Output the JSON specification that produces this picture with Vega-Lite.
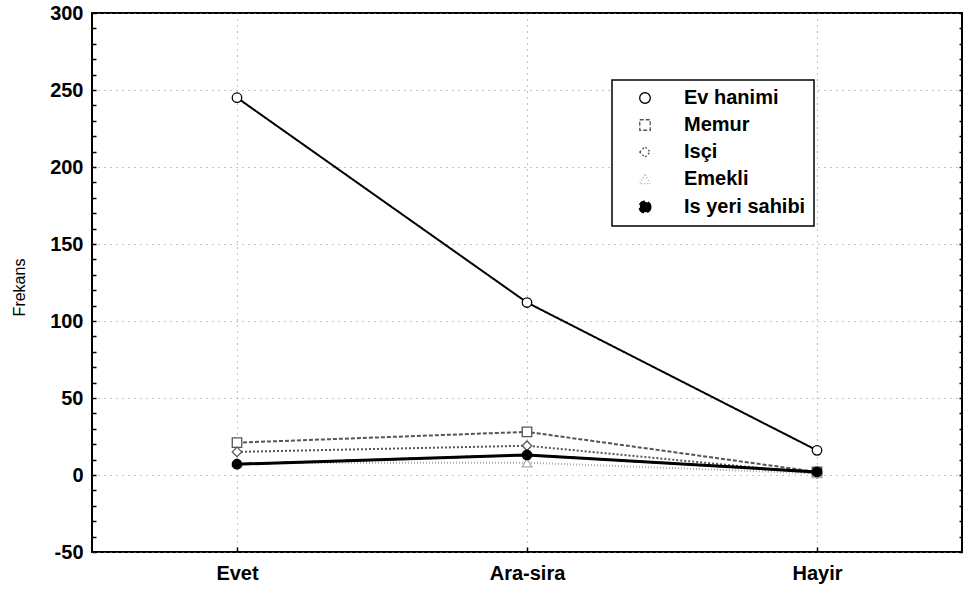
{
  "$schema": "https://vega.github.io/schema/vega-lite/v6.json",
  "width": 870,
  "height": 539,
  "autosize": "none",
  "padding": {"left": 92, "top": 13, "right": 5, "bottom": 40},
  "background": "white",
  "config": {
    "view": {"stroke": "black", "strokeWidth": 2},
    "font": "Liberation Sans"
  },
  "data": {
    "values": [
      {"cevap": "Evet", "grup": "Ev hanimi", "frekans": 245},
      {"cevap": "Ara-sira", "grup": "Ev hanimi", "frekans": 112},
      {"cevap": "Hayir", "grup": "Ev hanimi", "frekans": 16},
      {"cevap": "Evet", "grup": "Memur", "frekans": 21},
      {"cevap": "Ara-sira", "grup": "Memur", "frekans": 28},
      {"cevap": "Hayir", "grup": "Memur", "frekans": 2},
      {"cevap": "Evet", "grup": "Isçi", "frekans": 15},
      {"cevap": "Ara-sira", "grup": "Isçi", "frekans": 19},
      {"cevap": "Hayir", "grup": "Isçi", "frekans": 1},
      {"cevap": "Evet", "grup": "Emekli", "frekans": 8},
      {"cevap": "Ara-sira", "grup": "Emekli", "frekans": 8},
      {"cevap": "Hayir", "grup": "Emekli", "frekans": 1},
      {"cevap": "Evet", "grup": "Is yeri sahibi", "frekans": 7},
      {"cevap": "Ara-sira", "grup": "Is yeri sahibi", "frekans": 13},
      {"cevap": "Hayir", "grup": "Is yeri sahibi", "frekans": 2}
    ]
  },
  "encoding": {
    "x": {
      "field": "cevap", "type": "ordinal", "sort": ["Evet", "Ara-sira", "Hayir"],
      "scale": {"type": "point", "padding": 0.5},
      "axis": {"title": null, "labelAngle": 0, "labelFontSize": 20, "labelFontWeight": "bold", "labelColor": "black", "labelPadding": 16, "tickSize": -5, "tickWidth": 1.5, "tickColor": "black", "domain": false, "grid": true, "gridDash": [1, 5], "gridColor": "#888"}
    }
  },
  "resolve": {"axis": {"y": "independent"}},
  "layer": [
    {
      "mark": {"type": "line"},
      "encoding": {
        "y": {
          "field": "frekans", "type": "quantitative",
          "scale": {"domain": [-50, 300], "nice": false, "zero": false},
          "axis": {"title": "Frekans", "titleFontSize": 16, "titleFontWeight": "normal", "titleColor": "black", "titleX": -73, "titleY": 274, "titleAlign": "center", "titleBaseline": "middle", "titleAngle": 270,
            "values": [-50, -40, -30, -20, -10, 0, 10, 20, 30, 40, 50, 60, 70, 80, 90, 100, 110, 120, 130, 140, 150, 160, 170, 180, 190, 200, 210, 220, 230, 240, 250, 260, 270, 280, 290, 300],
            "labelExpr": "datum.value % 50 === 0 ? toString(datum.value) : ''", "labelOverlap": false, "labelFontSize": 20, "labelFontWeight": "bold", "labelColor": "black", "labelPadding": 13,
            "tickSize": -4, "tickWidth": 1.5, "tickColor": "black", "domain": false, "grid": true, "gridDash": [1, 5], "gridColor": "#888",
            "gridOpacity": {"condition": {"test": "datum.value % 50 === 0", "value": 1}, "value": 0}}
        },
        "color": {"field": "grup", "type": "nominal", "sort": ["Ev hanimi", "Memur", "Isçi", "Emekli", "Is yeri sahibi"],
          "scale": {"domain": ["Ev hanimi", "Memur", "Isçi", "Emekli", "Is yeri sahibi"], "range": ["#000000", "#555555", "#555555", "#aaaaaa", "#000000"]},
          "legend": {"title": null, "orient": "none", "legendX": 520, "legendY": 67, "strokeColor": "black", "fillColor": "white", "padding": 8, "labelFontSize": 20, "labelFontWeight": "bold", "labelColor": "black", "symbolSize": 110, "rowPadding": 7, "symbolOffset": 15, "labelOffset": 29, "labelExpr": "datum.label + '     '",
            "encode": {
              "legend": {"update": {"strokeWidth": {"value": 1.5}}},
              "symbols": {"update": {
              "shape": {"signal": "datum.value === 'Memur' ? 'M-3,0H-1M1,0H3M-1,-1H1V1H-1Z' : datum.value === 'Isçi' ? 'M-3,0H-1M1,0H3M0,-1.1L1.1,0L0,1.1L-1.1,0Z' : datum.value === 'Emekli' ? 'M-3,0H-1M1,0H3M0,-1L1,0.8L-1,0.8Z' : 'M-3,0H-1M1,0H3M1,0A1,1 0 1 1 -1,0A1,1 0 1 1 1,0Z'"},
              "strokeWidth": {"signal": "datum.value === 'Is yeri sahibi' ? 2.5 : 1.3"}
            }}}}},
        "strokeDash": {"field": "grup", "type": "nominal", "sort": ["Ev hanimi", "Memur", "Isçi", "Emekli", "Is yeri sahibi"],
          "scale": {"domain": ["Ev hanimi", "Memur", "Isçi", "Emekli", "Is yeri sahibi"], "range": [[1, 0], [4, 2], [2, 2], [1, 2], [6, 3]]},
          "legend": {"title": null, "orient": "none", "legendX": 520, "legendY": 67, "strokeColor": "black", "fillColor": "white", "padding": 8, "labelFontSize": 20, "labelFontWeight": "bold", "labelColor": "black", "symbolSize": 110, "rowPadding": 7, "symbolOffset": 15, "labelOffset": 29, "labelExpr": "datum.label + '     '",
            "encode": {
              "legend": {"update": {"strokeWidth": {"value": 1.5}}},
              "symbols": {"update": {
              "shape": {"signal": "datum.value === 'Memur' ? 'M-3,0H-1M1,0H3M-1,-1H1V1H-1Z' : datum.value === 'Isçi' ? 'M-3,0H-1M1,0H3M0,-1.1L1.1,0L0,1.1L-1.1,0Z' : datum.value === 'Emekli' ? 'M-3,0H-1M1,0H3M0,-1L1,0.8L-1,0.8Z' : 'M-3,0H-1M1,0H3M1,0A1,1 0 1 1 -1,0A1,1 0 1 1 1,0Z'"},
              "strokeWidth": {"signal": "datum.value === 'Is yeri sahibi' ? 2.5 : 1.3"}
            }}}}}
      }
    },
    {
      "mark": {"type": "point", "size": 90, "strokeWidth": 1.3, "opacity": 1},
      "encoding": {
        "y": {"field": "frekans", "type": "quantitative", "axis": null},
        "shape": {"field": "grup", "type": "nominal", "sort": ["Ev hanimi", "Memur", "Isçi", "Emekli", "Is yeri sahibi"],
          "scale": {"domain": ["Ev hanimi", "Memur", "Isçi", "Emekli", "Is yeri sahibi"], "range": ["circle", "square", "diamond", "triangle-up", "circle"]},
          "legend": {"title": null, "orient": "none", "legendX": 520, "legendY": 67, "strokeColor": "black", "fillColor": "white", "padding": 8, "labelFontSize": 20, "labelFontWeight": "bold", "labelColor": "black", "symbolSize": 110, "rowPadding": 7, "symbolOffset": 15, "labelOffset": 29, "labelExpr": "datum.label + '     '",
            "encode": {
              "legend": {"update": {"strokeWidth": {"value": 1.5}}},
              "symbols": {"update": {
              "shape": {"signal": "datum.value === 'Memur' ? 'M-3,0H-1M1,0H3M-1,-1H1V1H-1Z' : datum.value === 'Isçi' ? 'M-3,0H-1M1,0H3M0,-1.1L1.1,0L0,1.1L-1.1,0Z' : datum.value === 'Emekli' ? 'M-3,0H-1M1,0H3M0,-1L1,0.8L-1,0.8Z' : 'M-3,0H-1M1,0H3M1,0A1,1 0 1 1 -1,0A1,1 0 1 1 1,0Z'"},
              "strokeWidth": {"signal": "datum.value === 'Is yeri sahibi' ? 2.5 : 1.3"}
            }}}}},
        "color": {"field": "grup", "type": "nominal", "sort": ["Ev hanimi", "Memur", "Isçi", "Emekli", "Is yeri sahibi"],
          "scale": {"domain": ["Ev hanimi", "Memur", "Isçi", "Emekli", "Is yeri sahibi"], "range": ["#000000", "#555555", "#555555", "#aaaaaa", "#000000"]}},
        "fill": {"field": "grup", "type": "nominal", "sort": ["Ev hanimi", "Memur", "Isçi", "Emekli", "Is yeri sahibi"],
          "scale": {"domain": ["Ev hanimi", "Memur", "Isçi", "Emekli", "Is yeri sahibi"], "range": ["white", "white", "white", "white", "black"]},
          "legend": {"title": null, "orient": "none", "legendX": 520, "legendY": 67, "strokeColor": "black", "fillColor": "white", "padding": 8, "labelFontSize": 20, "labelFontWeight": "bold", "labelColor": "black", "symbolSize": 110, "rowPadding": 7, "symbolOffset": 15, "labelOffset": 29, "labelExpr": "datum.label + '     '",
            "encode": {
              "legend": {"update": {"strokeWidth": {"value": 1.5}}},
              "symbols": {"update": {
              "shape": {"signal": "datum.value === 'Memur' ? 'M-3,0H-1M1,0H3M-1,-1H1V1H-1Z' : datum.value === 'Isçi' ? 'M-3,0H-1M1,0H3M0,-1.1L1.1,0L0,1.1L-1.1,0Z' : datum.value === 'Emekli' ? 'M-3,0H-1M1,0H3M0,-1L1,0.8L-1,0.8Z' : 'M-3,0H-1M1,0H3M1,0A1,1 0 1 1 -1,0A1,1 0 1 1 1,0Z'"},
              "strokeWidth": {"signal": "datum.value === 'Is yeri sahibi' ? 2.5 : 1.3"}
            }}}}}
      }
    },
    {
      "mark": {"type": "line", "strokeWidth": 3},
      "transform": [{"filter": "datum.grup === 'Is yeri sahibi'"}],
      "encoding": {
        "y": {"field": "frekans", "type": "quantitative", "axis": null},
        "color": {"value": "black"}
      }
    },
    {
      "mark": {"type": "point", "opacity": 0},
      "encoding": {
        "y": {"field": "frekans", "type": "quantitative",
          "axis": {"orient": "right", "title": null, "labels": false, "grid": false, "domain": false, "tickSize": -3, "tickWidth": 1.5, "tickColor": "black",
            "values": [-50, -40, -30, -20, -10, 0, 10, 20, 30, 40, 50, 60, 70, 80, 90, 100, 110, 120, 130, 140, 150, 160, 170, 180, 190, 200, 210, 220, 230, 240, 250, 260, 270, 280, 290, 300]}}
      }
    }
  ]
}
